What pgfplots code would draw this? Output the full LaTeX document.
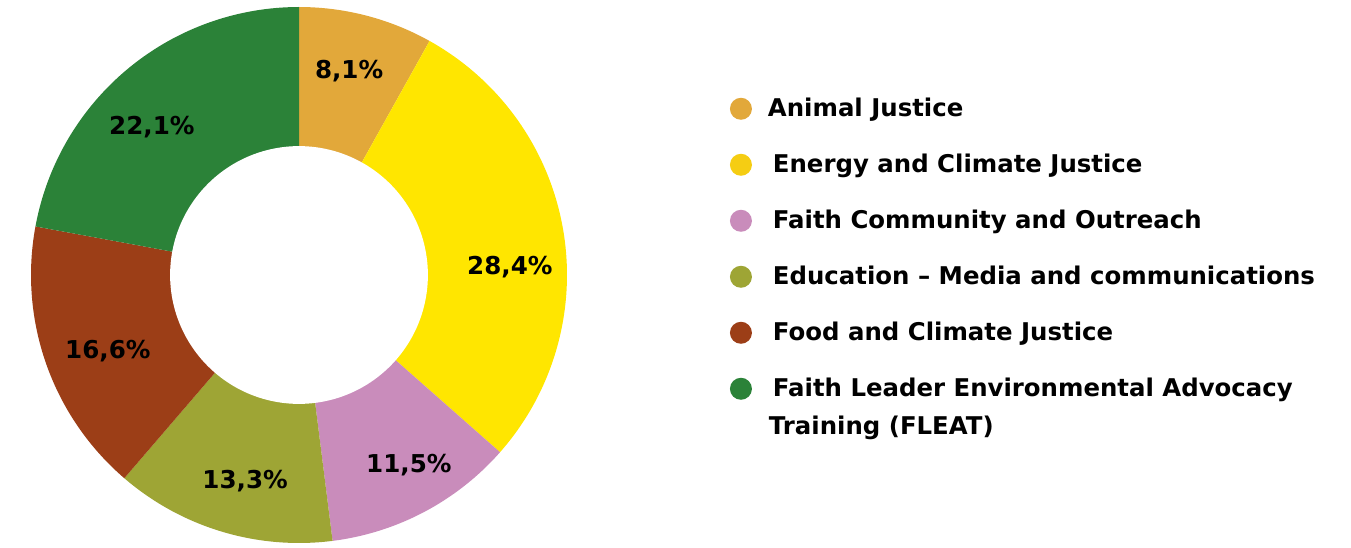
\documentclass[border=0pt]{standalone}
\usepackage{fontspec}
\setmainfont{DejaVu Sans}
\usepackage{pgfplots}
\usepackage{pgfplotstable}
\pgfplotsset{compat=1.18}
\definecolor{cAnimal}{HTML}{E2A83A}
\definecolor{cEnergy}{HTML}{FFE600}
\definecolor{cEnergyLeg}{HTML}{F5CD13}
\definecolor{cFaith}{HTML}{C98CBB}
\definecolor{cEdu}{HTML}{9EA535}
\definecolor{cFood}{HTML}{9C3E17}
\definecolor{cFleat}{HTML}{2B8238}
% label positions (axis units) and share in percent
\pgfplotstableread{
x y pct
0.187 0.761 8.1
0.787 0.030 28.4
0.410 -0.709 11.5
-0.201 -0.769 13.3
-0.713 -0.284 16.6
-0.549 0.552 22.1
}\labels
\begin{document}
\begin{tikzpicture}
\useasboundingbox (0,0) rectangle (675.5pt,273.5pt);
\begin{axis}[
  at={(149.5pt,136pt)}, anchor=center,
  scale only axis, width=268pt, height=268pt,
  xmin=-1, xmax=1, ymin=-1, ymax=1,
  hide axis, clip=false,
  font=\fontsize{12.2}{14}\selectfont\bfseries,
  /pgf/number format/assume math mode=true,
  legend cell align=left,
  legend style={at={(axis cs:1.608,0.665)}, anchor=north west,
    draw=none, fill=none, inner sep=0pt, outer sep=0pt,
    row sep=16pt, column sep=10.5pt,
    font=\fontsize{12.2}{14}\selectfont\bfseries,
    nodes={inner sep=0pt, text height=10pt, text depth=2pt}},
  legend image code/.code={\fill[#1, draw=none] (5.5pt,0pt) circle (5.5pt);},
]
% slices: 8.1, 28.4, 11.5, 13.3, 16.6, 22.1 (%), clockwise from top
\addplot[fill=cAnimal, draw=none, domain=60.84:90, samples=40, forget plot] ({cos(x)},{sin(x)}) -- (axis cs:0,0) -- cycle;
\addplot[fill=cEnergy, draw=none, domain=-41.4:60.84, samples=100, forget plot] ({cos(x)},{sin(x)}) -- (axis cs:0,0) -- cycle;
\addplot[fill=cFaith, draw=none, domain=-82.8:-41.4, samples=50, forget plot] ({cos(x)},{sin(x)}) -- (axis cs:0,0) -- cycle;
\addplot[fill=cEdu, draw=none, domain=-130.68:-82.8, samples=50, forget plot] ({cos(x)},{sin(x)}) -- (axis cs:0,0) -- cycle;
\addplot[fill=cFood, draw=none, domain=-190.44:-130.68, samples=60, forget plot] ({cos(x)},{sin(x)}) -- (axis cs:0,0) -- cycle;
\addplot[fill=cFleat, draw=none, domain=-270:-190.44, samples=80, forget plot] ({cos(x)},{sin(x)}) -- (axis cs:0,0) -- cycle;
% hole
\addplot[fill=white, draw=none, domain=0:360, samples=180, forget plot] ({0.481*cos(x)},{0.481*sin(x)}) -- cycle;
% labels
\addplot[only marks, mark=none, forget plot, point meta=explicit,
  nodes near coords={\pgfmathprintnumber[fixed,fixed zerofill,precision=1,use comma]{\pgfplotspointmeta}\%},
  every node near coord/.append style={anchor=center, font=\fontsize{12.3}{14}\selectfont\bfseries}]
  table[x=x, y=y, meta=pct] {\labels};
\addlegendimage{fill=cAnimal}
\addlegendentry{\hspace{-2.5pt}Animal Justice}
\addlegendimage{fill=cEnergyLeg}
\addlegendentry{Energy and Climate Justice}
\addlegendimage{fill=cFaith}
\addlegendentry{Faith Community and Outreach}
\addlegendimage{fill=cEdu}
\addlegendentry{Education – Media and communications}
\addlegendimage{fill=cFood}
\addlegendentry{Food and Climate Justice}
\addlegendimage{fill=cFleat}
\addlegendentry{\makebox[0pt][l]{\hspace{-2pt}\raisebox{-19pt}[0pt][0pt]{Training (FLEAT)}}Faith Leader Environmental Advocacy}
\end{axis}
\end{tikzpicture}
\end{document}
